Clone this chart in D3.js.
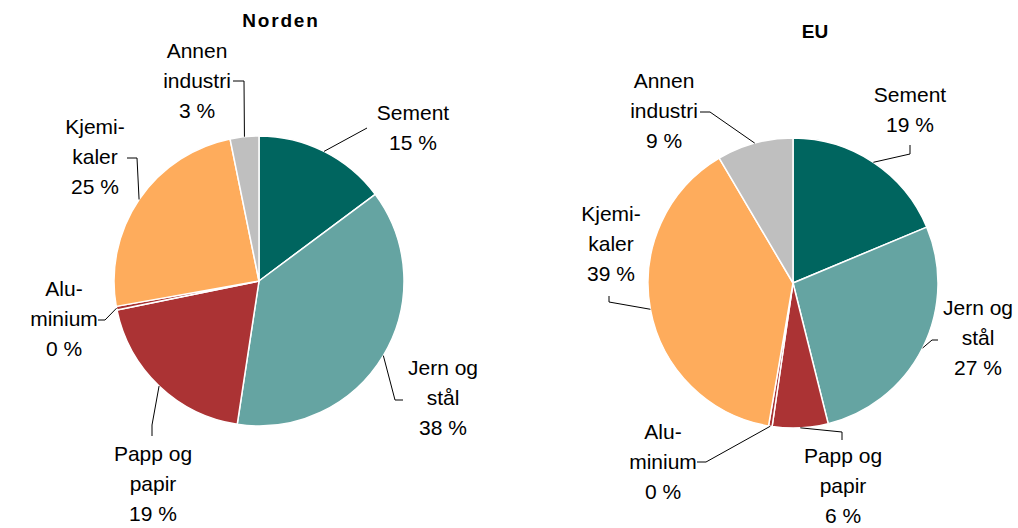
<!DOCTYPE html>
<html>
<head>
<meta charset="utf-8">
<script src="https://cdn.jsdelivr.net/npm/d3@7"></script>
<style>
  body { margin: 0; background: #fff; }
  svg { display: block; font-family: "Liberation Sans", Arial, sans-serif; }
</style>
</head>
<body>
<div id="chart"></div>
<script>
// categories, clockwise from 12 o'clock
const categories = ["Sement", "Jern og stål", "Papp og papir", "Aluminium", "Kjemikaler", "Annen industri"];
const labelLines = [["Sement"], ["Jern og", "stål"], ["Papp og", "papir"], ["Alu-", "minium"], ["Kjemi-", "kaler"], ["Annen", "industri"]];
const colors = ["#00655f", "#65a4a2", "#ab3334", "#a83232", "#feac5c", "#bfbfbf"];

// shares in per cent
const nordenValues = [14.8, 37.6, 19.4, 0.4, 24.6, 3.2];
const euValues = [18.7, 27.4, 6.2, 0.4, 38.8, 8.5];

const width = 1018;
const height = 528;
const radius = 145;

// label placement relative to pie centre: text anchor (first baseline) and leader bend points
const nordenLayout = [
  { tx: 154, ty: -161, pts: [[108, -153]] },
  { tx: 184, ty: 94, pts: [[144, 119], [136, 119]] },
  { tx: -106, ty: 180, pts: [[-107, 155], [-107, 144]] },
  { tx: -195, ty: 15, pts: [[-161, 39], [-154, 39]] },
  { tx: -164, ty: -147, pts: [[-132, -123], [-122, -123]] },
  { tx: -62, ty: -223, pts: [[-26, -200], [-15, -200]] }
];
const euLayout = [
  { tx: 117, ty: -181, pts: [[117, -138], [117, -129]] },
  { tx: 185, ty: 32, pts: [[145, 57], [139, 57]] },
  { tx: 50, ty: 180, pts: [[49, 157], [49, 149]] },
  { tx: -130, ty: 156, pts: [[-96, 179], [-87, 179]] },
  { tx: -182, ty: -62, pts: [[-184, 13], [-184, 19]] },
  { tx: -129, ty: -195, pts: [[-93, -171], [-83, -171]] }
];

const svg = d3.select("#chart").append("svg")
  .attr("width", width)
  .attr("height", height);

function drawPie(values, layout, cx, cy, title, titleX, titleY, spacing) {
  const g = svg.append("g").attr("transform", `translate(${cx}, ${cy})`);

  const pie = d3.pie().sort(null).value(d => d);
  const arc = d3.arc().innerRadius(0).outerRadius(radius);
  const arcs = pie(values);

  g.selectAll("path")
    .data(arcs)
    .enter()
    .append("path")
    .attr("d", arc)
    .attr("fill", (d, i) => colors[i])
    .attr("stroke", "#fff")
    .attr("stroke-width", 1.5)
    .attr("stroke-linejoin", "round");

  const line = d3.line();

  arcs.forEach((d, i) => {
    const mid = (d.startAngle + d.endAngle) / 2;
    const edge = [radius * Math.sin(mid), -radius * Math.cos(mid)];
    const lay = layout[i];

    g.append("path")
      .attr("d", line(lay.pts.concat([edge])))
      .attr("fill", "none")
      .attr("stroke", "#000")
      .attr("stroke-width", 1);

    const lines = labelLines[i].concat([Math.round(values[i]) + " %"]);
    const text = g.append("text")
      .attr("text-anchor", "middle")
      .attr("font-size", 21)
      .attr("fill", "#000");
    lines.forEach((s, k) => {
      text.append("tspan")
        .attr("x", lay.tx)
        .attr("y", lay.ty + k * 30)
        .text(s);
    });
  });

  svg.append("text")
    .attr("x", titleX)
    .attr("y", titleY)
    .attr("text-anchor", "middle")
    .attr("font-size", 19)
    .attr("font-weight", "bold")
    .attr("letter-spacing", spacing)
    .text(title);
}

drawPie(nordenValues, nordenLayout, 259, 281, "Norden", 281, 27, 1.8);
drawPie(euValues, euLayout, 793, 283, "EU", 815, 38, 0);
</script>
</body>
</html>
